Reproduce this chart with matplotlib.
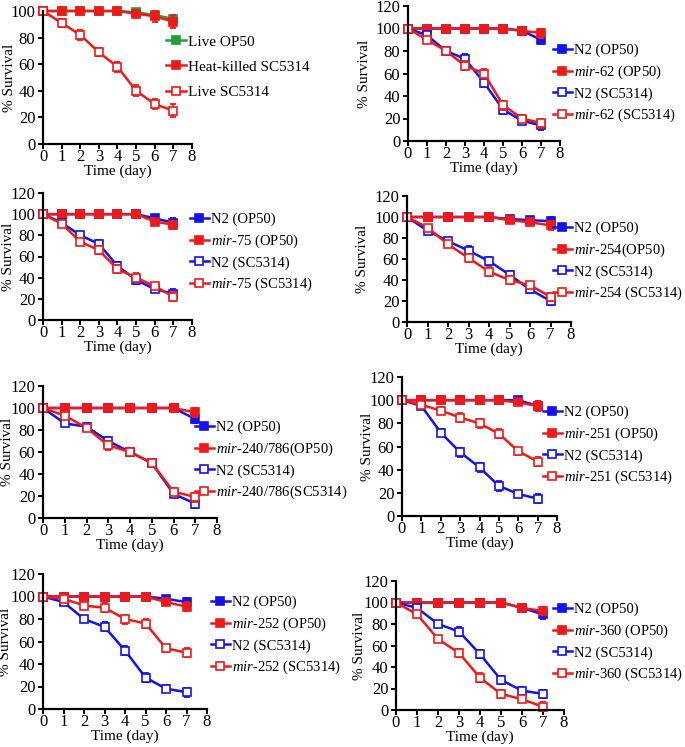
import matplotlib
matplotlib.use("Agg")
import matplotlib.pyplot as plt
import matplotlib.transforms as mtransforms
import numpy as np

plt.rcParams['font.family'] = ['Liberation Serif', 'DejaVu Serif']
plt.rcParams['mathtext.fontset'] = 'custom'
plt.rcParams['mathtext.rm'] = 'Liberation Serif'
plt.rcParams['mathtext.it'] = 'Liberation Serif:italic'

BLUE = '#1212ee'
RED = '#ee1a1a'
GREEN = '#1f9e3a'

days = np.arange(8)

# --- panel 1: controls
live_op50 = [100, 100, 100, 100, 100, 99, 97, 94]
heat_sc5314 = [100, 100, 100, 100, 100, 98, 96, 92]
live_sc5314 = [100, 91, 82, 69, 58, 40, 30, 25]
live_op50_err = [0, 0, 0, 0, 0, 2, 2, 2]
heat_sc5314_err = [0, 0, 0, 0, 0, 2, 4, 5]
live_sc5314_err = [0, 3, 4, 3, 4, 4, 4, 5]

# --- mir-62
n2_op50_62 = [100, 100, 100, 100, 100, 100, 98, 90]
mir_op50_62 = [100, 100, 100, 100, 100, 100, 98, 96]
n2_sc_62 = [100, 94, 80, 73, 52, 28, 18, 14]
mir_sc_62 = [100, 90, 80, 67, 60, 32, 20, 16]

# --- mir-75
n2_op50_75 = [100, 100, 100, 100, 100, 100, 96, 92]
mir_op50_75 = [100, 100, 100, 100, 100, 100, 93, 90]
n2_sc_75 = [100, 92, 80, 72, 51, 38, 29, 25]
mir_sc_75 = [100, 91, 74, 66, 48, 40, 32, 22]

# --- mir-254
n2_op50_254 = [100, 100, 100, 100, 100, 98, 97, 96]
mir_op50_254 = [100, 100, 100, 100, 100, 97, 95, 92]
n2_sc_254 = [100, 87, 77, 68, 58, 45, 31, 20]
mir_sc_254 = [100, 90, 74, 61, 48, 40, 35, 24]

# --- mir-240/786
n2_op50_240 = [100, 100, 100, 100, 100, 100, 100, 90]
mir_op50_240 = [100, 100, 100, 100, 100, 100, 100, 96]
n2_sc_240 = [100, 86, 83, 70, 60, 50, 22, 13]
mir_sc_240 = [100, 93, 82, 66, 60, 50, 24, 19]

# --- mir-251
n2_op50_251 = [100, 100, 100, 100, 100, 100, 100, 95]
mir_op50_251 = [100, 100, 100, 100, 100, 100, 98, 95]
n2_sc_251 = [100, 95, 72, 55, 42, 26, 19, 15]
mir_sc_251 = [100, 96, 91, 85, 80, 71, 56, 47]

# --- mir-252
n2_op50_252 = [100, 100, 100, 100, 100, 100, 98, 95]
mir_op50_252 = [100, 100, 100, 100, 100, 100, 95, 91]
n2_sc_252 = [100, 95, 80, 73, 52, 28, 18, 15]
mir_sc_252 = [100, 98, 92, 90, 80, 76, 54, 50]

# --- mir-360
n2_op50_360 = [100, 100, 100, 100, 100, 100, 95, 89]
mir_op50_360 = [100, 100, 100, 100, 100, 100, 95, 92]
n2_sc_360 = [100, 95, 80, 73, 52, 28, 18, 15]
mir_sc_360 = [100, 89, 66, 53, 30, 15, 10, 3]

# shared rough error estimates
err_op50 = [0, 0, 0, 0, 1, 2, 2, 4]
err_sc = [0, 2, 3, 4, 4, 4, 3, 4]

mutants = ['62', '75', '254', '240/786', '251', '252', '360']
mutant_series = [
    (n2_op50_62, mir_op50_62, n2_sc_62, mir_sc_62),
    (n2_op50_75, mir_op50_75, n2_sc_75, mir_sc_75),
    (n2_op50_254, mir_op50_254, n2_sc_254, mir_sc_254),
    (n2_op50_240, mir_op50_240, n2_sc_240, mir_sc_240),
    (n2_op50_251, mir_op50_251, n2_sc_251, mir_sc_251),
    (n2_op50_252, mir_op50_252, n2_sc_252, mir_sc_252),
    (n2_op50_360, mir_op50_360, n2_sc_360, mir_sc_360),
]
mutant_label_fmt = [
    ('N2 (OP50)', '{m} (OP50)', 'N2 (SC5314)', '{m} (SC5314)'),
    ('N2 (OP50)', '{m} (OP50)', 'N2 (SC5314)', '{m} (SC5314)'),
    ('N2 (OP50)', '{m}(OP50)', 'N2 (SC5314)', '{m} (SC5314)'),
    ('N2 (OP50)', '{m}(OP50)', 'N2 (SC5314)', '{m}(SC5314)'),
    ('N2 (OP50)', '{m} (OP50)', 'N2 (SC5314)', '{m} (SC5314)'),
    ('N2 (OP50)', '{m} (OP50)', 'N2 (SC5314)', '{m} (SC5314)'),
    ('N2 (OP50)', '{m} (OP50)', 'N2 (SC5314)', '{m} (SC5314)'),
]

# pixel layout: (left, right, top, bottom, ylabel_x, legend_x, legend_top)
W, H = 685, 747
boxes = [
    (43, 192, 11, 144, 16, 166, 35),
    (408, 560, 6, 141, 371, 553, 44),
    (43, 192, 193, 320, 15, 190, 213),
    (407, 571, 196, 322, 369, 553, 222),
    (43, 217, 386, 518, 14, 195, 421),
    (402, 557, 377, 516, 374, 543, 406),
    (43, 207, 574, 709, 12, 211, 596),
    (396, 564, 581, 710, 366, 553, 603),
]

fig = plt.figure(figsize=(W / 100, H / 100), dpi=100)


def mir_label(m):
    parts = m.split('/')
    s = '/'.join(r'$\mathit{' + p + '}$' for p in parts)
    return r'$\mathit{mir}$-' + s


def make_axes(box, ymax):
    l, r, t, b, ylx, _, _ = box
    ax = fig.add_axes([l / W, 1 - b / H, (r - l) / W, (b - t) / H])
    ax.set_xlim(0, 8)
    ax.set_ylim(0, ymax)
    ax.set_xticks(range(9))
    ax.set_yticks(range(0, ymax + 1, 20))
    for s in ['top', 'right']:
        ax.spines[s].set_visible(False)
    for s in ['left', 'bottom']:
        ax.spines[s].set_linewidth(1.6)
    ax.tick_params(direction='out', length=3.5, width=1.4, labelsize=12)
    ax.tick_params(axis='x', pad=0)
    ax.tick_params(axis='y', pad=2)
    ax.set_xlabel('Time (day)', fontsize=11, labelpad=0)
    ax.set_ylabel('% Survival', fontsize=11)
    tr = mtransforms.blended_transform_factory(fig.transFigure, ax.transAxes)
    ax.yaxis.set_label_coords(ylx / W, 0.5, transform=tr)
    return ax


def series(ax, y, err, color, filled, label):
    ax.errorbar(days, y, yerr=err, fmt='none', ecolor=color, elinewidth=1.3,
                capsize=2.5, capthick=1.3, clip_on=False)
    ax.plot(days, y, color=color, lw=1.8, marker='s', ms=6,
            mfc=color if filled else 'white', mec=color, mew=1.2,
            label=label, clip_on=False)


def add_legend(ax, box, spacing, size):
    l, r, t, b, _, lx, lt = box
    ax.legend(loc='upper left', bbox_to_anchor=(lx / W, 1 - lt / H),
              bbox_transform=fig.transFigure, frameon=False, fontsize=size,
              handlelength=1.3, handletextpad=0.15, labelspacing=spacing,
              borderaxespad=0, borderpad=0, numpoints=1)


# panel 1
ax = make_axes(boxes[0], 100)
series(ax, live_op50, live_op50_err, GREEN, True, 'Live OP50')
series(ax, heat_sc5314, heat_sc5314_err, RED, True, 'Heat-killed SC5314')
series(ax, live_sc5314, live_sc5314_err, RED, False, 'Live SC5314')
add_legend(ax, boxes[0], 0.75, 11)

for i, (m, data, fmts) in enumerate(zip(mutants, mutant_series, mutant_label_fmt)):
    box = boxes[i + 1]
    ax = make_axes(box, 120)
    ml = mir_label(m)
    labels = [f.replace('{m}', ml) for f in fmts]
    series(ax, data[0], err_op50, BLUE, True, labels[0])
    series(ax, data[1], err_op50, RED, True, labels[1])
    series(ax, data[2], err_sc, BLUE, False, labels[2])
    series(ax, data[3], err_sc, RED, False, labels[3])
    add_legend(ax, box, 0.42, 10.5)

fig.savefig('out.png', dpi=100)
